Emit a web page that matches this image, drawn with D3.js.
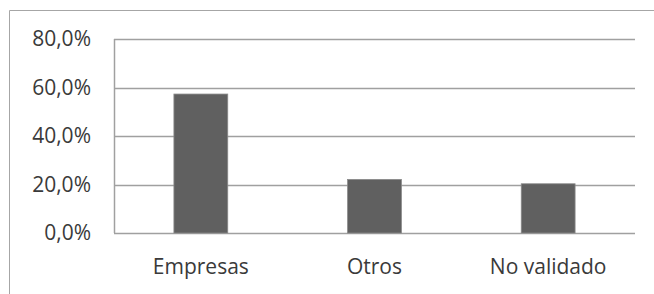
<!DOCTYPE html>
<html>
<head>
<meta charset="utf-8">
<script src="https://cdn.jsdelivr.net/npm/d3@7"></script>
<style>
  body { margin: 0; background: #fff; }
  text { font-family: "Open Sans", "Noto Sans", sans-serif; fill: #3a3a3a; }
</style>
</head>
<body>
<div id="chart"></div>
<script>
var categories = ["Empresas", "Otros", "No validado"]
var values = [0.573, 0.221, 0.203]
var yTicks = [0, 0.2, 0.4, 0.6, 0.8]

var width = 654, height = 294
var margin = {top: 39, right: 19, bottom: 61, left: 114}

var svg = d3.select("#chart").append("svg")
    .attr("width", width)
    .attr("height", height)

// outer frame (only top and left edges show in the picture)
svg.append("path")
    .attr("d", "M9.5,294 V10.5 H654")
    .attr("fill", "none")
    .attr("stroke", "#a6a6a6")
    .attr("stroke-width", 1)

var x = d3.scaleBand()
    .domain(categories)
    .range([margin.left, width - margin.right])
    .paddingInner(0.69)
    .paddingOuter(0.345)

var y = d3.scaleLinear()
    .domain([0, 0.8])
    .range([height - margin.bottom, margin.top])

var fmt = function(d) { return d3.format(".1f")(d * 100).replace(".", ",") + "%" }

// gridlines
svg.append("g")
    .selectAll("line")
    .data(yTicks)
    .enter().append("line")
    .attr("x1", margin.left)
    .attr("x2", width - margin.right)
    .attr("y1", function(d) { return Math.round(y(d)) + 0.5 })
    .attr("y2", function(d) { return Math.round(y(d)) + 0.5 })
    .attr("stroke", "#a0a0a0")
    .attr("stroke-width", 1.5)

// left axis line
svg.append("line")
    .attr("x1", margin.left + 0.5).attr("x2", margin.left + 0.5)
    .attr("y1", y(0.8)).attr("y2", y(0))
    .attr("stroke", "#a0a0a0")
    .attr("stroke-width", 1.5)

// bars
svg.append("g")
    .selectAll("rect")
    .data(values)
    .enter().append("rect")
    .attr("x", function(d, i) { return x(categories[i]) })
    .attr("width", x.bandwidth())
    .attr("y", function(d) { return y(d) })
    .attr("height", function(d) { return y(0) - y(d) })
    .attr("fill", "#606060")
    .attr("stroke", "#8a8a8a")
    .attr("stroke-width", 0.8)

// y tick labels
svg.append("g")
    .selectAll("text")
    .data(yTicks)
    .enter().append("text")
    .attr("x", 91)
    .attr("y", function(d) { return y(d) })
    .attr("dy", "0.35em")
    .attr("text-anchor", "end")
    .style("font-size", "21px")
    .text(fmt)

// category labels
svg.append("g")
    .selectAll("text")
    .data(categories)
    .enter().append("text")
    .attr("x", function(d) { return x(d) + x.bandwidth() / 2 })
    .attr("y", 274)
    .attr("text-anchor", "middle")
    .style("font-size", "21px")
    .text(function(d) { return d })
</script>
</body>
</html>
